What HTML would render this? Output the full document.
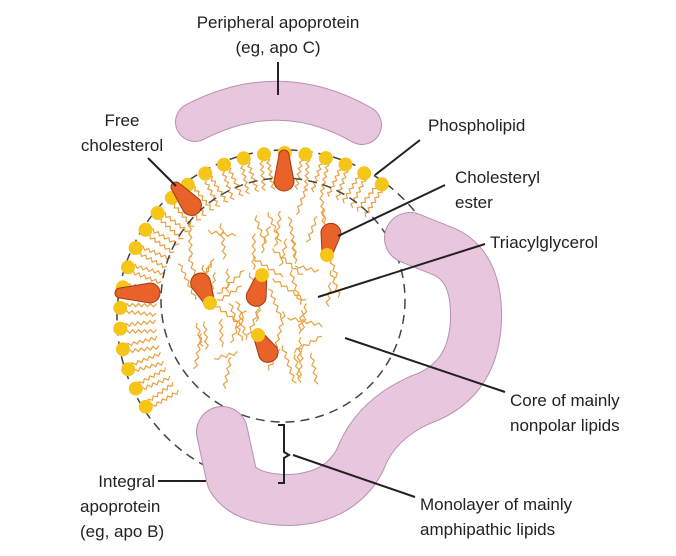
<!DOCTYPE html>
<html><head><style>
html,body{margin:0;padding:0;background:#fff;}
svg{display:block;}
text{font-family:"Liberation Sans",sans-serif;font-size:17px;fill:#222;}
</style></head><body>
<svg id="s" width="676" height="556" viewBox="0 0 676 556">
<g id="tails" stroke="#e8a040" stroke-width="1.2" fill="none"></g>
<g id="core" stroke="#e8a040" stroke-width="1.2" fill="none"></g>
<circle cx="285" cy="318" r="168" fill="none" stroke="#444" stroke-width="1.5" stroke-dasharray="9,6"/>
<circle cx="283" cy="300" r="122" fill="none" stroke="#444" stroke-width="1.5" stroke-dasharray="9,6"/>
<path d="M195,122 Q280,78 362,125" stroke="#b890b0" stroke-width="40" stroke-linecap="round" fill="none"/>
<path d="M195,122 Q280,78 362,125" stroke="#e8c6de" stroke-width="38" stroke-linecap="round" fill="none"/>
<path id="ip" d="M222,432 L232,478 Q245,500 290,500 Q340,498 360,460 Q375,420 420,400 Q478,380 476,310 Q474,262 440,250 L410,238" stroke="#b890b0" stroke-width="52" stroke-linecap="round" stroke-linejoin="round" fill="none"/>
<path d="M222,432 L232,478 Q245,500 290,500 Q340,498 360,460 Q375,420 420,400 Q478,380 476,310 Q474,262 440,250 L410,238" stroke="#e8c6de" stroke-width="50" stroke-linecap="round" stroke-linejoin="round" fill="none"/>
<g id="dots" fill="#f5c518"></g>
<g id="chol" fill="#e8622a" stroke="#a03a10" stroke-width="1"></g>
<path d="M278,425 L284,425 L284,452 L289,455 L284,458 L284,483 L278,483" stroke="#222" stroke-width="2" fill="none"/>
<g stroke="#222" stroke-width="2">
<line x1="278" y1="62" x2="278" y2="95"/>
<line x1="148" y1="158" x2="176" y2="186"/>
<line x1="420" y1="140" x2="375" y2="175"/>
<line x1="445" y1="185" x2="338" y2="236"/>
<line x1="485" y1="244" x2="318" y2="297"/>
<line x1="505" y1="392" x2="345" y2="338"/>
<line x1="415" y1="497" x2="293" y2="455"/>
<line x1="158" y1="481" x2="206" y2="481"/>
</g>
<text x="278" y="28" text-anchor="middle">Peripheral apoprotein</text>
<text x="278" y="53" text-anchor="middle">(eg, apo C)</text>
<text x="122" y="126" text-anchor="middle">Free</text>
<text x="122" y="151" text-anchor="middle">cholesterol</text>
<text x="428" y="131">Phospholipid</text>
<text x="455" y="183">Cholesteryl</text>
<text x="455" y="208">ester</text>
<text x="490" y="248">Triacylglycerol</text>
<text x="510" y="406">Core of mainly</text>
<text x="510" y="431">nonpolar lipids</text>
<text x="420" y="510">Monolayer of mainly</text>
<text x="420" y="535">amphipathic lipids</text>
<text x="155" y="487" text-anchor="end">Integral</text>
<text x="80" y="512">apoprotein</text>
<text x="80" y="537">(eg, apo B)</text>
</svg>
<script>
var NS="http://www.w3.org/2000/svg";
function el(p,t,a){var e=document.createElementNS(NS,t);for(var k in a)e.setAttribute(k,a[k]);p.appendChild(e);return e;}
var cx=285,cy=318,R=165;
var dots=document.getElementById('dots'),tails=document.getElementById('tails'),core=document.getElementById('core'),chol=document.getElementById('chol');
function wavy(x,y,ang,len,amp,st){st=st||3;var d="M"+x+","+y;var n=Math.floor(len/st);var ux=Math.cos(ang),uy=Math.sin(ang),px=-uy,py=ux;for(var i=1;i<=n;i++){var s=i*st,o=(i%2?amp:-amp);d+=" L"+(x+ux*s+px*o).toFixed(1)+","+(y+uy*s+py*o).toFixed(1);}return d;}
for(var deg=147.5;deg<=307;deg+=7.2){var r=deg*Math.PI/180;var x=cx+R*Math.cos(r),y=cy+R*Math.sin(r);
 var inward=Math.atan2(cy-y,cx-x);
 for(var k=-1;k<=1;k+=2){var ox=-Math.sin(inward)*3*k,oy=Math.cos(inward)*3*k;el(tails,'path',{d:wavy(x+ox,y+oy,inward+k*0.05,36,1.6)});}
 el(dots,'circle',{cx:x.toFixed(1),cy:y.toFixed(1),r:7});}
var seed=11;function rnd(){seed=(seed*9301+49297)%233280;return seed/233280;}
for(var i=0;i<60;i++){var x=185+rnd()*150,y=210+rnd()*150;var dx=x-270,dy=y-290;if(dx*dx+dy*dy>90*90)continue;var ang=(rnd()<0.7?(Math.PI/2+(rnd()-0.5)*0.8)*(rnd()<0.5?1:-1):rnd()*Math.PI*2);el(core,'path',{d:wavy(x,y,ang,25+rnd()*20,1.6,4)});}
function drop(x,y,ang,L,dot){var g=el(chol,'g',{transform:'translate('+x+','+y+') rotate('+ang+')'});el(g,'path',{d:'M0,-5 L'+L+',-10 A10,10 0 0 1 '+L+',10 L0,5 A5,5 0 0 1 0,-5Z'});if(dot)el(g,'circle',{cx:0,cy:0,r:7,fill:'#f5c518',stroke:'none'});}
drop(176,187,50,24,false);
drop(284,155,90,26,false);
drop(120,293,0,30,false);
drop(327,255,-80,22,true);
drop(210,303,-115,22,true);
drop(262,275,105,22,true);
drop(258,335,60,20,true);
</script>
</body></html>
